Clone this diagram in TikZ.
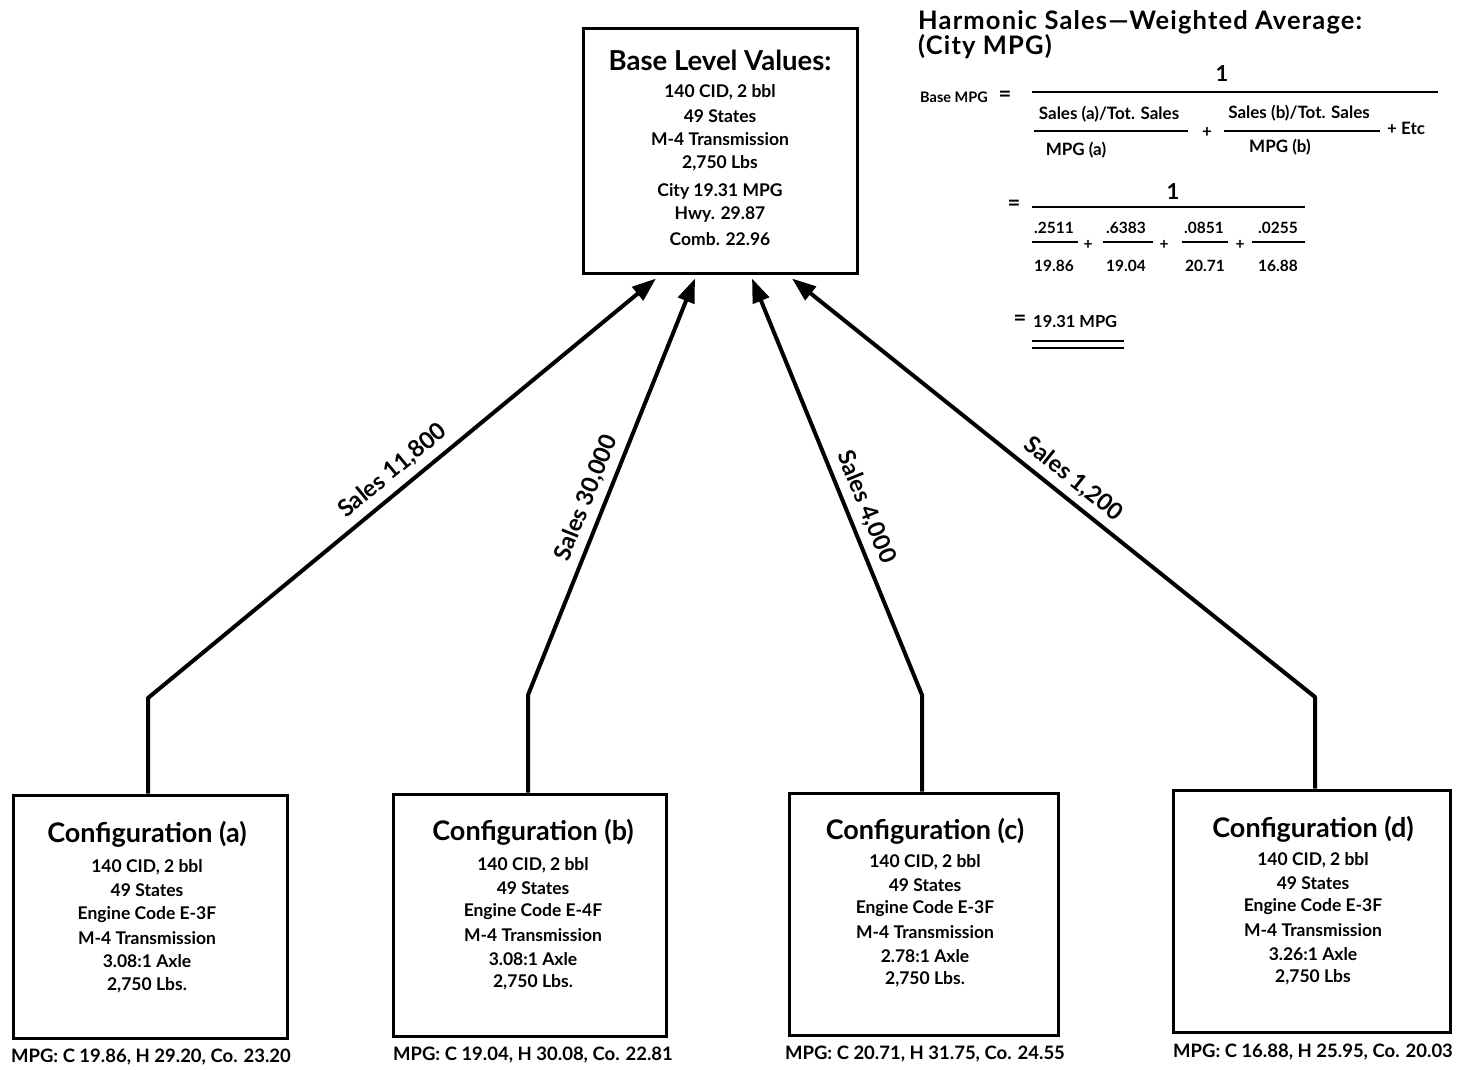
\documentclass[tikz,border=0pt]{standalone}
\usepackage{fontspec}
\setmainfont{Lato}
\usetikzlibrary{arrows.meta,calc}
\newcommand{\myfs}[1]{\fontsize{#1}{#1}\selectfont}
\begin{document}
\begin{tikzpicture}[x=1pt,y=-1pt,
  boxst/.style={draw,line width=3pt,inner sep=0,anchor=center},
  conn/.style={line width=4pt,line join=round,-{Triangle[length=24pt,width=17pt]}},
  ttl/.style={font=\bfseries\myfs{27}, inner sep=0},
  body/.style={font=\bfseries\myfs{17.5}, inner sep=0},
  foot/.style={font=\bfseries\myfs{18.5}, inner sep=0},
  lbl/.style={font=\bfseries\myfs{23.5}, sloped, above=7pt, inner sep=0},
  sm/.style={font=\bfseries\myfs{17}, inner sep=0},
  num/.style={font=\bfseries\myfs{15.5}, inner sep=0},
  fl/.style={line width=2pt}]
\useasboundingbox (0,0) rectangle (1458,1069);

% boxes
\node[boxst,minimum width=274pt,minimum height=245pt] (top) at (720,150.5) {};
\node[boxst,minimum width=274pt,minimum height=243pt] (ca) at (150,916.5) {};
\node[boxst,minimum width=273pt,minimum height=242pt] (cb) at (529.5,915) {};
\node[boxst,minimum width=269pt,minimum height=242pt] (cc) at (923.5,914) {};
\node[boxst,minimum width=277pt,minimum height=242pt] (cd) at (1311.5,911) {};

% top box text
\node[ttl,font=\bfseries\myfs{27.5}] (bt) at (720,60) {Base Level Values:};
\foreach \t [count=\i] in {{140 CID, 2 bbl},{49 States},{M-4 Transmission},{2,750 Lbs}}
  \node[body] (tb\i) at (720,{92+23.7*(\i-1)}) {\t};
\foreach \t [count=\i] in {{City 19.31 MPG},{Hwy. 29.87},{Comb. 22.96}}
  \node[body] (tm\i) at (720,{191+24*(\i-1)}) {\t};

% configuration texts
\node[ttl] (ta) at (147,834) {Configuration (a)};
\foreach \t [count=\i] in {{140 CID, 2 bbl},{49 States},{Engine Code E-3F},{M-4 Transmission},{3.08:1 Axle},{2,750 Lbs.}}
  \node[body] (la\i) at (147,{867+23.6*(\i-1)}) {\t};
\node[ttl] (tbb) at (533,832) {Configuration (b)};
\foreach \t [count=\i] in {{140 CID, 2 bbl},{49 States},{Engine Code E-4F},{M-4 Transmission},{3.08:1 Axle},{2,750 Lbs.}}
  \node[body] (lb\i) at (533,{865+23.4*(\i-1)}) {\t};
\node[ttl] (tcc) at (925,831) {Configuration (c)};
\foreach \t [count=\i] in {{140 CID, 2 bbl},{49 States},{Engine Code E-3F},{M-4 Transmission},{2.78:1 Axle},{2,750 Lbs.}}
  \node[body] (lc\i) at (925,{862+23.5*(\i-1)}) {\t};
\node[ttl] (tdd) at (1313,829) {Configuration (d)};
\foreach \t [count=\i] in {{140 CID, 2 bbl},{49 States},{Engine Code E-3F},{M-4 Transmission},{3.26:1 Axle},{2,750 Lbs}}
  \node[body] (ld\i) at (1313,{860+23.4*(\i-1)}) {\t};

% MPG footers
\node[foot] (ma) at (151,1057) {MPG: C 19.86, H 29.20, Co. 23.20};
\node[foot] (mb) at (533,1055) {MPG: C 19.04, H 30.08, Co. 22.81};
\node[foot] (mc) at (925,1054) {MPG: C 20.71, H 31.75, Co. 24.55};
\node[foot] (md) at (1313,1052) {MPG: C 16.88, H 25.95, Co. 20.03};

% bends
\coordinate (ka) at (148,698);
\coordinate (kb) at (528,695);
\coordinate (kc) at (922,695);
\coordinate (kd) at (1315,697);

% connectors
\draw[conn] (ca.north -| ka) -- (ka) -- node[lbl,pos=.506]{Sales 11,800} ($(top.south)+(-64,4)$);
\draw[conn] (cb.north -| kb) -- (kb) -- node[lbl,pos=.456]{Sales 30,000} ($(top.south)+(-25,4)$);
\draw[conn] (cc.north -| kc) -- (kc) -- node[lbl,pos=.434]{Sales 4,000} ($(top.south)+(32,4)$);
\draw[conn] (cd.north -| kd) -- (kd) -- node[lbl,pos=.485]{Sales 1,200} ($(top.south)+(72,4)$);

% formula
\node[ttl,font=\bfseries\myfs{25.5}\addfontfeatures{LetterSpace=4.5},anchor=west] (h1) at (918,22) {Harmonic Sales—Weighted Average:};
\node[ttl,font=\bfseries\myfs{25.5}\addfontfeatures{LetterSpace=4.5},anchor=west] (h2) at (918,47) {(City MPG)};
\node[sm,font=\bfseries\myfs{14.5},anchor=west] (bm) at (920,97) {Base MPG};
\node[num,font=\bfseries\myfs{22}] (eq1) at (1005,96) {=};
\draw[fl,line width=2.4pt] (1032,92) -- (1438,92);
\node[num,font=\bfseries\myfs{22}] (one1) at (1222,74) {1};
\node[sm] (n1) at (1109,114) {Sales (a)/Tot. Sales};
\draw[fl] (1034,131) -- (1188,131);
\node[sm] (d1) at (1076,150) {MPG (a)};
\node[sm] (p1) at (1207,133) {+};
\node[sm] (n2) at (1299,113) {Sales (b)/Tot. Sales};
\draw[fl] (1224,131) -- (1380,131);
\node[sm] (d2) at (1280,147) {MPG (b)};
\node[sm,anchor=west] (etc) at (1387,128) {+ Etc};

\node[num,font=\bfseries\myfs{22}] (eq2) at (1014,205) {=};
\node[num,font=\bfseries\myfs{22}] (one2) at (1173,192) {1};
\draw[fl,line width=2.4pt] (1032,207) -- (1305,207);
\node[num] (f1n) at (1054,228) {.2511};
\draw[fl] (1032,242) -- (1078,242);
\node[num] (f1d) at (1054,266) {19.86};
\node[num] (pp1) at (1088,245) {+};
\node[num] (f2n) at (1126,228) {.6383};
\draw[fl] (1103,242) -- (1153,242);
\node[num] (f2d) at (1126,266) {19.04};
\node[num] (pp2) at (1164,245) {+};
\node[num] (f3n) at (1204,228) {.0851};
\draw[fl] (1182,242) -- (1228,242);
\node[num] (f3d) at (1205,266) {20.71};
\node[num] (pp3) at (1240,245) {+};
\node[num] (f4n) at (1278,228) {.0255};
\draw[fl] (1252,242) -- (1305,242);
\node[num] (f4d) at (1278,266) {16.88};

\node[num,font=\bfseries\myfs{22}] (eq3) at (1020,320) {=};
\node[num,font=\bfseries\myfs{16.5},anchor=west] (res) at (1033,322) {19.31 MPG};
\draw[fl,line width=1.8pt] (1032,341) -- (1124,341);
\draw[fl,line width=1.8pt] (1032,348) -- (1124,348);
\end{tikzpicture}
\end{document}
